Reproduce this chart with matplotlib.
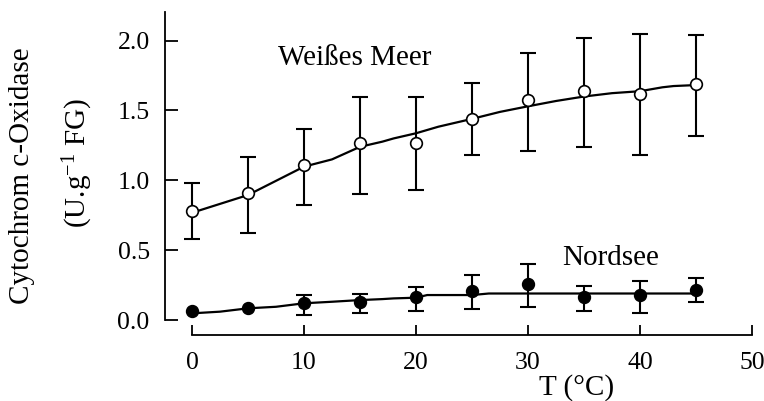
import numpy as np
import matplotlib
matplotlib.use("Agg")
import matplotlib.pyplot as plt

plt.rcParams['font.family'] = ['Liberation Serif', 'DejaVu Serif']
plt.rcParams['mathtext.fontset'] = 'custom'
plt.rcParams['mathtext.rm'] = 'Liberation Serif'
plt.rcParams['mathtext.it'] = 'Liberation Serif:italic'

# ---- data ----
temps = [0, 5, 10, 15, 20, 25, 30, 35, 40, 45]

wm_mean = [0.78, 0.907, 1.11, 1.265, 1.27, 1.437, 1.575, 1.641, 1.62, 1.687]
wm_top = [0.98, 1.165, 1.367, 1.60, 1.60, 1.694, 1.91, 2.016, 2.047, 2.04]
wm_bottom = [0.578, 0.62, 0.823, 0.90, 0.93, 1.179, 1.21, 1.24, 1.179, 1.32]

ns_mean = [0.067, 0.084, 0.12, 0.131, 0.167, 0.21, 0.255, 0.167, 0.179, 0.215]
ns_top = [np.nan, np.nan, 0.18, 0.184, 0.234, 0.322, 0.40, 0.246, 0.279, 0.303]
ns_bottom = [np.nan, np.nan, 0.036, 0.048, 0.064, 0.077, 0.095, 0.064, 0.052, 0.131]

wm_fit_x = [0, 5, 10, 12.5, 15, 17, 18, 20, 22, 25, 27.5, 30, 32.5, 35, 37.5, 40, 42, 43, 45]
wm_fit_y = [0.768, 0.895, 1.098, 1.15, 1.24, 1.277, 1.30, 1.337, 1.384, 1.44, 1.49, 1.53,
            1.568, 1.60, 1.624, 1.638, 1.666, 1.675, 1.682]

ns_fit_x = [0, 2.5, 5, 7.5, 10, 12.5, 15, 17, 18, 20, 21, 25, 26.5, 30, 35, 40, 45]
ns_fit_y = [0.048, 0.06, 0.084, 0.095, 0.12, 0.131, 0.143, 0.15, 0.155, 0.16, 0.179,
            0.179, 0.19, 0.19, 0.19, 0.19, 0.19]

xticks = [0, 10, 20, 30, 40, 50]
yticks = [0.0, 0.5, 1.0, 1.5, 2.0]
ylabel_1 = "Cytochrom c-Oxidase"
ylabel_2 = r"(U.g$^{-1}$ FG)"
xlabel = "T (°C)"
label_wm = "Weißes Meer"
label_ns = "Nordsee"

# ---- figure ----
W, H = 764, 401
fig = plt.figure(figsize=(W / 100, H / 100), dpi=100)
left_px, right_px, top_px, bot_px = 165, 752, 12, 335
ax = fig.add_axes([left_px / W, 1 - bot_px / H, (right_px - left_px) / W, (bot_px - top_px) / H])
ax.set_xlim(-2.41, 50)
ax.set_ylim(-0.107, 2.205)

for s in ['top', 'right']:
    ax.spines[s].set_visible(False)
ax.spines['left'].set_bounds(0, 2.205)
ax.spines['bottom'].set_bounds(0, 50)
for s in ['left', 'bottom']:
    ax.spines[s].set_linewidth(1.3)

ax.set_xticks(xticks)
ax.set_yticks(yticks)
ax.set_yticklabels([f"{v:.1f}" for v in yticks])
ax.tick_params(axis='both', direction='in', width=1.3, labelsize=18.5)
ax.tick_params(axis='y', length=9.5, pad=11)
ax.tick_params(axis='x', length=7, pad=12)

t = np.array(temps)
wm = np.array(wm_mean)
ns = np.array(ns_mean)

ax.plot(wm_fit_x, wm_fit_y, color='black', lw=1.6, zorder=2)
ax.plot(ns_fit_x, ns_fit_y, color='black', lw=1.6, zorder=2)

ax.errorbar(t, wm, yerr=[wm - np.array(wm_bottom), np.array(wm_top) - wm], fmt='none',
            ecolor='black', elinewidth=1.5, capsize=5.5, capthick=1.5, zorder=3)
ax.errorbar(t, ns, yerr=[ns - np.array(ns_bottom), np.array(ns_top) - ns], fmt='none',
            ecolor='black', elinewidth=1.5, capsize=5.5, capthick=1.5, zorder=3)

ax.plot(t, wm, 'o', ms=8.4, mfc='white', mec='black', mew=1.2, zorder=4, clip_on=False)
ax.plot(t, ns, 'o', ms=8.6, mfc='black', mec='black', mew=1.0, zorder=4, clip_on=False)

ax.text(14.55, 1.876, label_wm, fontsize=21, ha='center', va='center')
ax.text(37.4, 0.444, label_ns, fontsize=21, ha='center', va='center')

fig.text(577 / W, 1 - 388 / H, xlabel, fontsize=21, ha='center', va='center')
fig.text(22 / W, 1 - 176 / H, ylabel_1, fontsize=21, ha='center', va='center', rotation=90)
fig.text(78 / W, 1 - 163 / H, ylabel_2, fontsize=21, ha='center', va='center', rotation=90)

fig.savefig("out.png", dpi=100)
